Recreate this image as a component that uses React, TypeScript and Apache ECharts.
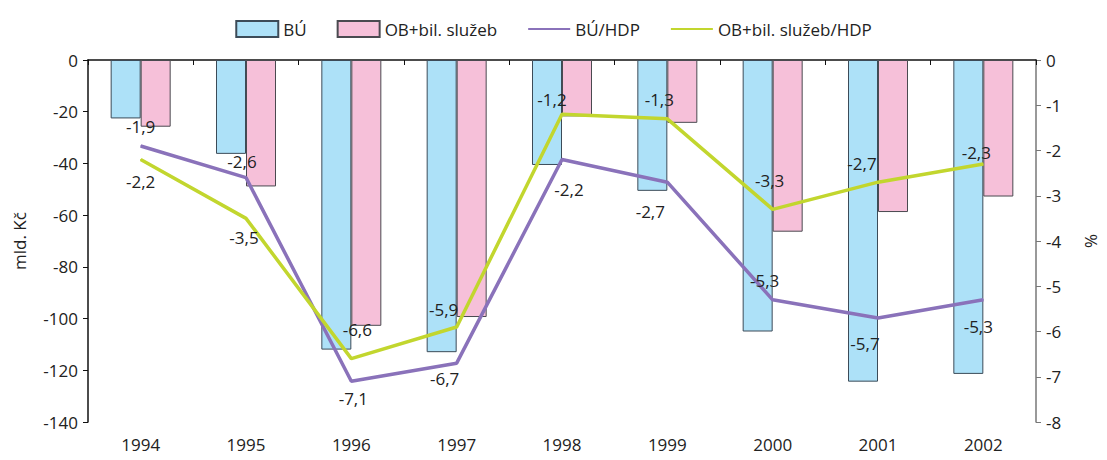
import React, { useEffect, useRef } from "react";
import * as echarts from "echarts";

const years = ["1994", "1995", "1996", "1997", "1998", "1999", "2000", "2001", "2002"];
// mld. Kč
const buValues = [-22.6, -36.3, -112, -113, -40.6, -50.6, -105, -124.4, -121.4];
const obValues = [-25.8, -48.9, -102.8, -99.4, -21.8, -24.3, -66.4, -58.8, -52.8];
// % of HDP
const buHdp = [-1.9, -2.6, -7.1, -6.7, -2.2, -2.7, -5.3, -5.7, -5.3];
const obHdp = [-2.2, -3.5, -6.6, -5.9, -1.2, -1.3, -3.3, -2.7, -2.3];

// label placement for each point of the ratio lines
const buHdpLabelPos = ["top", "top", "bottom", "bottom", "bottom", "bottom", "top", "bottom", "bottom"];
const obHdpLabelPos = ["bottom", "bottom", "top", "top", "top", "top", "top", "top", "top"];
const buHdpLabelShift = [[0, 0], [-4, 3], [2, -2], [-12, -4], [7, 11], [-17, 10], [-8, 0], [-13, 7], [-5, 8]];
const obHdpLabelShift = [[0, 3], [-2, 0], [6, -10], [-13, 2], [-10, 4], [-8, 0], [-3, -10], [-16, 0], [-7, 7]];

const FONT = "'Open Sans', 'Noto Sans', sans-serif";
const TXT = "#222222";
const FS = 17;

const fmt = (v: number) => String(v).replace(".", ",");

export default function App() {
  const ref = useRef<HTMLDivElement>(null);

  useEffect(() => {
    if (!ref.current) return;
    const chart = echarts.init(ref.current, undefined, { renderer: "svg" });

    const lineData = (vals: number[], pos: string[], shift: number[][]) =>
      vals.map((v, i) => ({
        value: v,
        label: { position: pos[i], offset: shift[i] },
      }));

    const lineLabel = {
      show: true,
      distance: 10,
      fontFamily: FONT,
      fontSize: FS,
      color: TXT,
      formatter: (p: any) => fmt(p.value),
    };

    chart.setOption({
      animation: false,
      textStyle: { fontFamily: FONT },
      legend: {
        top: 15,
        left: "center",
        itemWidth: 42,
        itemHeight: 16,
        itemGap: 30,
        textStyle: { fontFamily: FONT, fontSize: FS, color: TXT },
        data: [
          { name: "BÚ", icon: "rect" },
          { name: "OB+bil. služeb", icon: "rect" },
          { name: "BÚ/HDP", itemStyle: { opacity: 0 } },
          { name: "OB+bil. služeb/HDP", itemStyle: { opacity: 0 } },
        ],
      },
      grid: { left: 88, right: 62, top: 60, bottom: 38 },
      xAxis: [
        {
          type: "category",
          data: years,
          position: "bottom",
          axisLine: { show: false },
          axisTick: { show: false },
          axisLabel: { color: TXT, fontSize: FS, fontFamily: FONT, margin: 14 },
        },
        {
          type: "category",
          data: years,
          position: "top",
          axisLine: { show: true, lineStyle: { color: "#111", width: 1.5 } },
          axisTick: { show: true, inside: true, length: 5, lineStyle: { color: "#111" } },
          axisLabel: { show: false },
        },
      ],
      yAxis: [
        {
          type: "value",
          min: -140,
          max: 0,
          interval: 20,
          name: "mld. Kč",
          nameLocation: "middle",
          nameRotate: 90,
          nameGap: 60,
          nameTextStyle: { fontFamily: FONT, fontSize: FS, color: TXT },
          axisLine: { show: true, lineStyle: { color: "#111", width: 1.5 } },
          axisTick: { show: true, length: 5, lineStyle: { color: "#111" } },
          axisLabel: { color: TXT, fontSize: FS, fontFamily: FONT, margin: 10 },
          splitLine: { show: false },
        },
        {
          type: "value",
          min: -8,
          max: 0,
          interval: 1,
          position: "right",
          name: "%",
          nameLocation: "middle",
          nameRotate: 90,
          nameGap: 46,
          nameTextStyle: { fontFamily: FONT, fontSize: FS, color: TXT },
          axisLine: { show: true, lineStyle: { color: "#777", width: 1.5 } },
          axisTick: { show: true, length: 5, lineStyle: { color: "#777" } },
          axisLabel: { color: TXT, fontSize: FS, fontFamily: FONT, margin: 10 },
          splitLine: { show: false },
        },
      ],
      series: [
        {
          name: "BÚ",
          type: "bar",
          xAxisIndex: 0,
          yAxisIndex: 0,
          data: buValues,
          barWidth: 30,
          barGap: "0%",
          itemStyle: { color: "#ADE1F8", borderColor: "#3C4B58", borderWidth: 1 },
        },
        {
          name: "OB+bil. služeb",
          type: "bar",
          xAxisIndex: 0,
          yAxisIndex: 0,
          data: obValues,
          barWidth: 30,
          barGap: "0%",
          itemStyle: { color: "#F6C0D9", borderColor: "#4A4A50", borderWidth: 1 },
        },
        {
          name: "BÚ/HDP",
          type: "line",
          xAxisIndex: 0,
          yAxisIndex: 1,
          data: lineData(buHdp, buHdpLabelPos, buHdpLabelShift),
          symbol: "circle",
          symbolSize: 1,
          showSymbol: true,
          lineStyle: { color: "#8A72BA", width: 3.5 },
          itemStyle: { color: "#8A72BA" },
          label: lineLabel,
          z: 3,
        },
        {
          name: "OB+bil. služeb/HDP",
          type: "line",
          xAxisIndex: 0,
          yAxisIndex: 1,
          data: lineData(obHdp, obHdpLabelPos, obHdpLabelShift),
          symbol: "circle",
          symbolSize: 1,
          showSymbol: true,
          lineStyle: { color: "#C2D62E", width: 3.5 },
          itemStyle: { color: "#C2D62E" },
          label: lineLabel,
          z: 4,
        },
      ],
    });

    return () => chart.dispose();
  }, []);

  return (
    <div
      ref={ref}
      style={{ position: "absolute", left: 0, top: 0, width: 1107, height: 460 }}
    />
  );
}
